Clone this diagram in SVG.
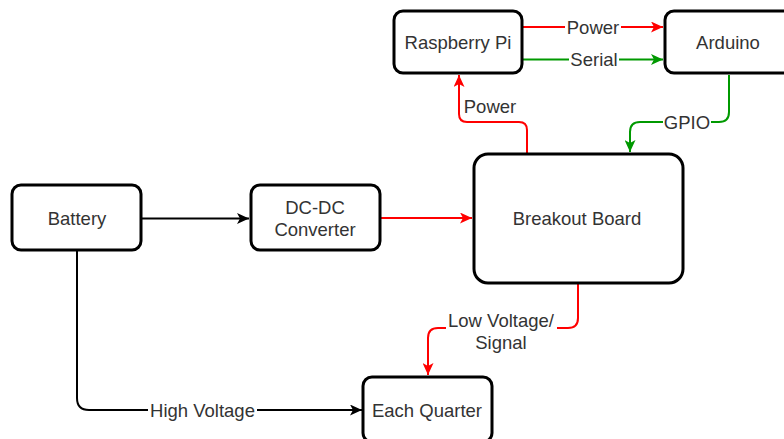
<svg xmlns="http://www.w3.org/2000/svg" width="784" height="439" viewBox="0 0 784 439">
<style>
  .box { fill: #ffffff; stroke: #000000; stroke-width: 3; }
  .t { font-family: "Liberation Sans", Arial, sans-serif; font-size: 18.5px; fill: #333333; text-anchor: middle; }
  .e { fill: none; stroke-width: 2; stroke-linejoin: round; }
  .k { stroke: #000000; }
  .r { stroke: #ff0000; }
  .g { stroke: #009900; }
  .lb { fill: #ffffff; stroke: none; }
</style>
<defs>
  <marker id="ak" viewBox="0 0 12 11" refX="12" refY="5.5" markerWidth="12" markerHeight="11" markerUnits="userSpaceOnUse" orient="auto"><path d="M0,0 L12,5.5 L0,11 L3,5.5 Z" fill="#000000"/></marker>
  <marker id="ar" viewBox="0 0 12 11" refX="12" refY="5.5" markerWidth="12" markerHeight="11" markerUnits="userSpaceOnUse" orient="auto"><path d="M0,0 L12,5.5 L0,11 L3,5.5 Z" fill="#ff0000"/></marker>
  <marker id="ag" viewBox="0 0 12 11" refX="12" refY="5.5" markerWidth="12" markerHeight="11" markerUnits="userSpaceOnUse" orient="auto"><path d="M0,0 L12,5.5 L0,11 L3,5.5 Z" fill="#009900"/></marker>
</defs>
<rect width="784" height="439" fill="#ffffff"/>

<g id="connectors">
  <!-- Pi -> Arduino Power -->
  <path class="e r" d="M523,27 L663,27" marker-end="url(#ar)"/>
  <rect class="lb" x="565" y="17" width="56" height="20"/>
  <text class="t" x="593" y="33.6">Power</text>
  <!-- Pi -> Arduino Serial -->
  <path class="e g" d="M523,59.5 L663,59.5" marker-end="url(#ag)"/>
  <rect class="lb" x="569" y="49" width="50" height="21"/>
  <text class="t" x="594" y="66">Serial</text>
  <!-- Breakout -> Pi Power -->
  <path class="e r" d="M527,153 L527,130 Q527,122 519,122 L467,122 Q459,122 459,114 L459,75" marker-end="url(#ar)"/>
  <text class="t" x="490" y="113">Power</text>
  <!-- Arduino -> Breakout GPIO -->
  <path class="e g" d="M729,75 L729,112 Q729,122 719,122 L640,122 Q630,122 630,132 L630,152" marker-end="url(#ag)"/>
  <rect class="lb" x="663" y="112" width="48" height="21"/>
  <text class="t" x="687" y="128.6">GPIO</text>
  <!-- Battery -> DC-DC -->
  <path class="e k" d="M141,218.5 L249,218.5" marker-end="url(#ak)"/>
  <!-- DC-DC -> Breakout -->
  <path class="e r" d="M380,218 L472,218" marker-end="url(#ar)"/>
  <!-- Breakout -> Each Quarter Low Voltage/Signal -->
  <path class="e r" d="M578,283 L578,318 Q578,328 568,328 L438,328 Q428,328 428,338 L428,375" marker-end="url(#ar)"/>
  <rect class="lb" x="446" y="308" width="111" height="44"/>
  <text class="t" x="501" y="326.6">Low Voltage/</text>
  <text class="t" x="501" y="348.6">Signal</text>
  <!-- Battery -> Each Quarter High Voltage -->
  <path class="e k" d="M77,250 L77,398 Q77,410 89,410 L362,410" marker-end="url(#ak)"/>
  <rect class="lb" x="148" y="400" width="109" height="21"/>
  <text class="t" x="202.5" y="416.6">High Voltage</text>
</g>

<g id="raspberry-pi">
  <rect class="box" x="394" y="11" width="128" height="62" rx="9"/>
  <text class="t" x="458" y="49.3">Raspberry Pi</text>
</g>
<g id="arduino">
  <rect class="box" x="665" y="11" width="128" height="62" rx="9"/>
  <text class="t" x="728" y="49.3">Arduino</text>
</g>
<g id="battery">
  <rect class="box" x="12" y="185" width="129" height="65" rx="9"/>
  <text class="t" x="77" y="224.6">Battery</text>
</g>
<g id="dc-dc-converter">
  <rect class="box" x="251" y="185" width="129" height="65" rx="9"/>
  <text class="t" x="315" y="213.6">DC-DC</text>
  <text class="t" x="315" y="235.6">Converter</text>
</g>
<g id="breakout-board">
  <rect class="box" x="474" y="154" width="209" height="129" rx="14"/>
  <text class="t" x="577" y="224.6">Breakout Board</text>
</g>
<g id="each-quarter">
  <rect class="box" x="363" y="377" width="129" height="65" rx="9"/>
  <text class="t" x="427" y="416.6">Each Quarter</text>
</g>
</svg>
